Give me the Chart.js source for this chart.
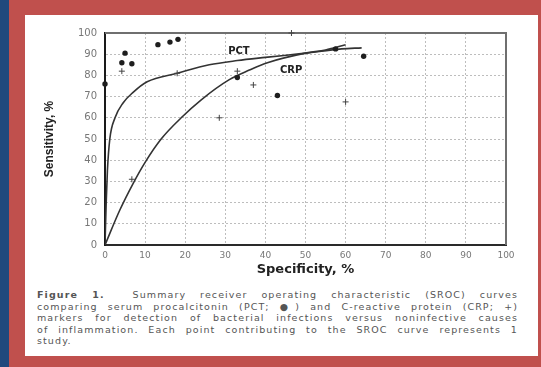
<!DOCTYPE html>
<html lang="en">
<head>
<meta charset="UTF-8">
<title>SROC curves - PCT and CRP</title>
<script src="https://cdn.jsdelivr.net/npm/chart.js@4.4.0/dist/chart.umd.min.js"></script>
<style>
    html, body { margin: 0; padding: 0; }
    body { width: 541px; height: 367px; background: #c0504d; position: relative; overflow: hidden; font-family: "DejaVu Sans", sans-serif; }
    #strip { position: absolute; left: 0; top: 0; width: 9px; height: 367px; background: #1f497d; }
    #sheet { position: absolute; left: 25px; top: 15px; width: 513px; height: 341px; background: #fff; }
    #chartBox { position: absolute; left: 0; top: 0; width: 513px; height: 270px; }
    #caption { position: absolute; left: 12px; top: 274px; width: 481px; font-size: 9.5px; line-height: 11.6px; color: #555; letter-spacing: 1.1px; }
    #caption div { text-align: justify; text-align-last: justify; }
    #caption div.last { text-align-last: left; }
</style>
</head>
<body>
<div id="strip"></div>
<div id="sheet">
    <div id="chartBox"><canvas id="myChart"></canvas></div>
    <div id="caption">
        <div><b>Figure 1.</b>&nbsp; Summary receiver operating characteristic (SROC) curves</div>
        <div>comparing serum procalcitonin (PCT; ●) and C-reactive protein (CRP; +)</div>
        <div>markers for detection of bacterial infections versus noninfective causes</div>
        <div>of inflammation. Each point contributing to the SROC curve represents 1</div>
        <div class="last">study.</div>
    </div>
</div>
<script>
    // axis ticks (percent)
    const tickValues = [0, 10, 20, 30, 40, 50, 60, 70, 80, 90, 100];

    // SROC curves (specificity %, sensitivity %)
    const pctCurveSpec = [0, 0.3, 0.6, 1.2, 2.5, 4.5, 7, 10.5, 18, 26, 33, 40, 50, 59, 64];
    const pctCurveSens = [0, 20, 35, 50, 60, 67, 72, 77, 81, 85, 87, 88.5, 90.5, 92.5, 93];
    const crpCurveSpec = [0, 3.7, 7, 10, 14, 19, 24, 31, 36, 40.5, 50, 55, 60];
    const crpCurveSens = [0, 16.5, 29, 39, 50, 60, 68.5, 78, 82.5, 86, 90.5, 92, 94.5];

    // single studies
    const pctStudySpec = [0, 5, 4.2, 6.7, 13.2, 16.2, 18.2, 33, 43, 57.5, 64.5];
    const pctStudySens = [76, 90.5, 86, 85.5, 94.5, 95.7, 97, 79, 70.5, 92.5, 89];
    const crpStudySpec = [4.2, 18, 33, 37, 60, 46.5, 28.5, 6.7];
    const crpStudySens = [82, 81, 82, 75.5, 67.5, 100, 60, 31];

    function toPoints(xs, ys) {
        return xs.map((x, i) => ({ x: x, y: ys[i] }));
    }

    // grey frame on the top and right of the plot
    const frame = {
        id: 'frame',
        beforeDatasetsDraw(chart) {
            const a = chart.chartArea;
            const ctx = chart.ctx;
            ctx.save();
            ctx.strokeStyle = '#6f6f6f';
            ctx.lineWidth = 2;
            ctx.beginPath();
            ctx.moveTo(a.left, a.top);
            ctx.lineTo(a.right, a.top);
            ctx.lineTo(a.right, a.bottom);
            ctx.stroke();
            ctx.restore();
        }
    };

    // curve names next to the lines
    const curveNames = {
        id: 'curveNames',
        afterDatasetsDraw(chart, args, opts) {
            const ctx = chart.ctx;
            ctx.save();
            ctx.font = 'bold 10px "DejaVu Sans"';
            ctx.fillStyle = '#222';
            ctx.textAlign = 'center';
            ctx.textBaseline = 'middle';
            for (const l of opts.labels) {
                ctx.fillText(l.text, chart.scales.x.getPixelForValue(l.x), chart.scales.y.getPixelForValue(l.y));
            }
            ctx.restore();
        }
    };

    const ctx = document.getElementById('myChart').getContext('2d');
    const myChart = new Chart(ctx, {
        type: 'scatter',
        data: {
            datasets: [
                {
                    label: 'PCT studies',
                    data: toPoints(pctStudySpec, pctStudySens),
                    pointStyle: 'circle',
                    pointRadius: 2.7,
                    backgroundColor: '#1e1e1e',
                    borderColor: '#1e1e1e',
                    borderWidth: 0,
                    clip: 6
                },
                {
                    label: 'CRP studies',
                    data: toPoints(crpStudySpec, crpStudySens),
                    pointStyle: 'cross',
                    pointRadius: 3,
                    borderColor: '#444',
                    borderWidth: 1,
                    clip: 6
                },
                {
                    label: 'PCT',
                    data: toPoints(pctCurveSpec, pctCurveSens),
                    showLine: true,
                    cubicInterpolationMode: 'monotone',
                    borderColor: '#333',
                    borderWidth: 1.6,
                    pointRadius: 0
                },
                {
                    label: 'CRP',
                    data: toPoints(crpCurveSpec, crpCurveSens),
                    showLine: true,
                    cubicInterpolationMode: 'monotone',
                    borderColor: '#333',
                    borderWidth: 1.6,
                    pointRadius: 0
                }
            ]
        },
        options: {
            responsive: true,
            maintainAspectRatio: false,
            animation: false,
            layout: { padding: { top: 18, right: 32, left: 0, bottom: 0 } },
            plugins: {
                legend: { display: false },
                tooltip: { enabled: false },
                curveNames: {
                    labels: [
                        { text: 'PCT', x: 33.4, y: 91.5 },
                        { text: 'CRP', x: 46.4, y: 82.5 }
                    ]
                }
            },
            scales: {
                x: {
                    type: 'linear',
                    min: 0,
                    max: 100,
                    afterBuildTicks: (s) => { s.ticks = tickValues.map(v => ({ value: v })); },
                    afterFit: (s) => { s.height = 40; },
                    grid: { color: '#bdbdbd', lineWidth: 1, drawTicks: false },
                    border: { color: '#2a2a2a', width: 2, dash: [2, 2] },
                    ticks: { color: '#777', padding: 5, font: { family: 'DejaVu Sans', size: 9 } },
                    title: {
                        display: true,
                        text: 'Specificity, %',
                        color: '#222',
                        font: { family: 'DejaVu Sans', size: 13, weight: 'bold' },
                        padding: { top: 0, bottom: 8 }
                    }
                },
                y: {
                    type: 'linear',
                    min: 0,
                    max: 100,
                    afterBuildTicks: (s) => { s.ticks = tickValues.map(v => ({ value: v })); },
                    afterFit: (s) => { s.width = 80; },
                    grid: { color: '#bdbdbd', lineWidth: 1, drawTicks: false },
                    border: { color: '#1a1a1a', width: 2, dash: [2, 2] },
                    ticks: { color: '#777', padding: 8, font: { family: 'DejaVu Sans', size: 10 } },
                    title: {
                        display: true,
                        text: 'Sensitivity, %',
                        color: '#222',
                        font: { family: 'Liberation Sans', size: 12, weight: 'bold' },
                        padding: { top: 17, bottom: 0 }
                    }
                }
            }
        },
        plugins: [frame, curveNames]
    });
</script>
</body>
</html>
